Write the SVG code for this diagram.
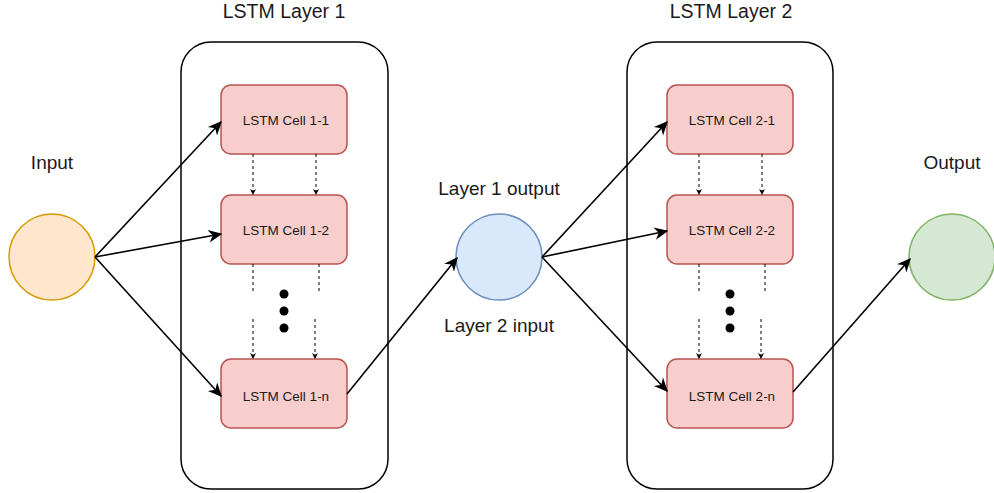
<svg xmlns="http://www.w3.org/2000/svg" width="994" height="493" viewBox="0 0 994 493">
<style>
.t{font-family:"Liberation Sans",Arial,sans-serif;fill:#1a1a1a;text-anchor:middle}
.big{font-size:19px}
.ttl{font-size:19.5px}
.sm{font-size:13.5px}
.cell{fill:#f8cecc;stroke:#b85450;stroke-width:1.5}
.box{fill:none;stroke:#000;stroke-width:1.5}
.e{fill:none;stroke:#000;stroke-width:1.6}
.d{fill:none;stroke:#000;stroke-width:1;stroke-dasharray:3 3}
</style>
<defs>
<marker id="a" viewBox="0 0 10 10" refX="9" refY="5" markerWidth="14" markerHeight="14" markerUnits="userSpaceOnUse" orient="auto"><path d="M0,0.5 L10,5 L0,9.5 L3,5 Z" fill="#000"/></marker>
<marker id="b" viewBox="0 0 10 10" refX="10" refY="5" markerWidth="6" markerHeight="6" markerUnits="userSpaceOnUse" orient="auto"><path d="M0,0 L10,5 L0,10 L3,5 Z" fill="#000"/></marker>
</defs>
<text class="t ttl" x="284" y="18">LSTM Layer 1</text>
<text class="t ttl" x="731" y="18">LSTM Layer 2</text>
<g id="layer1"><rect class="box" x="181" y="42" width="207" height="447" rx="30"/></g>
<g id="layer2"><rect class="box" x="627" y="42" width="206" height="447" rx="30"/></g>
<g id="input"><circle cx="52" cy="257" r="43" fill="#ffe6cc" stroke="#d79b00" stroke-width="1.5"/><text class="t big" x="52" y="169">Input</text></g>
<g id="mid"><circle cx="499" cy="257" r="43" fill="#dae8fc" stroke="#6c8ebf" stroke-width="1.5"/><text class="t big" x="499" y="195">Layer 1 output</text><text class="t big" x="499" y="332">Layer 2 input</text></g>
<g id="output"><circle cx="952" cy="257" r="43" fill="#d5e8d4" stroke="#82b366" stroke-width="1.5"/><text class="t big" x="952" y="169">Output</text></g>
<g id="c11"><rect class="cell" x="221" y="85" width="126" height="69" rx="10"/><text class="t sm" x="286" y="125">LSTM Cell 1-1</text></g>
<g id="c12"><rect class="cell" x="221" y="195" width="126" height="69" rx="10"/><text class="t sm" x="286" y="235">LSTM Cell 1-2</text></g>
<g id="c1n"><rect class="cell" x="221" y="359" width="126" height="69" rx="10"/><text class="t sm" x="286" y="401">LSTM Cell 1-n</text></g>
<g id="c21"><rect class="cell" x="667" y="85" width="126" height="69" rx="10"/><text class="t sm" x="732" y="125">LSTM Cell 2-1</text></g>
<g id="c22"><rect class="cell" x="667" y="195" width="126" height="69" rx="10"/><text class="t sm" x="732" y="235">LSTM Cell 2-2</text></g>
<g id="c2n"><rect class="cell" x="667" y="359" width="126" height="69" rx="10"/><text class="t sm" x="732" y="401">LSTM Cell 2-n</text></g>
<g id="dots1" fill="#000"><circle cx="284" cy="294" r="4.5"/><circle cx="284" cy="311" r="4.5"/><circle cx="284" cy="328" r="4.5"/></g>
<g id="dots2" fill="#000"><circle cx="730" cy="294" r="4.5"/><circle cx="730" cy="311" r="4.5"/><circle cx="730" cy="328" r="4.5"/></g>
<g id="connectors">
<path class="e" d="M95,257 L221,122" marker-end="url(#a)"/>
<path class="e" d="M95,257 L221,234" marker-end="url(#a)"/>
<path class="e" d="M95,257 L221,396" marker-end="url(#a)"/>
<path class="e" d="M347,394 L457,258" marker-end="url(#a)"/>
<path class="e" d="M542,257 L667,122" marker-end="url(#a)"/>
<path class="e" d="M542,257 L667,231" marker-end="url(#a)"/>
<path class="e" d="M542,257 L667,391" marker-end="url(#a)"/>
<path class="e" d="M793,392 L910,259" marker-end="url(#a)"/>
<path class="d" d="M253,154 L253,195" marker-end="url(#b)"/>
<path class="d" d="M316,154 L316,195" marker-end="url(#b)"/>
<path class="d" d="M253,264 L253,292"/>
<path class="d" d="M319,264 L319,292"/>
<path class="d" d="M253,319 L253,359" marker-end="url(#b)"/>
<path class="d" d="M315,319 L315,359" marker-end="url(#b)"/>
<path class="d" d="M699,154 L699,195" marker-end="url(#b)"/>
<path class="d" d="M762,154 L762,195" marker-end="url(#b)"/>
<path class="d" d="M699,264 L699,292"/>
<path class="d" d="M765,264 L765,292"/>
<path class="d" d="M699,319 L699,359" marker-end="url(#b)"/>
<path class="d" d="M761,319 L761,359" marker-end="url(#b)"/>
</g>
</svg>
